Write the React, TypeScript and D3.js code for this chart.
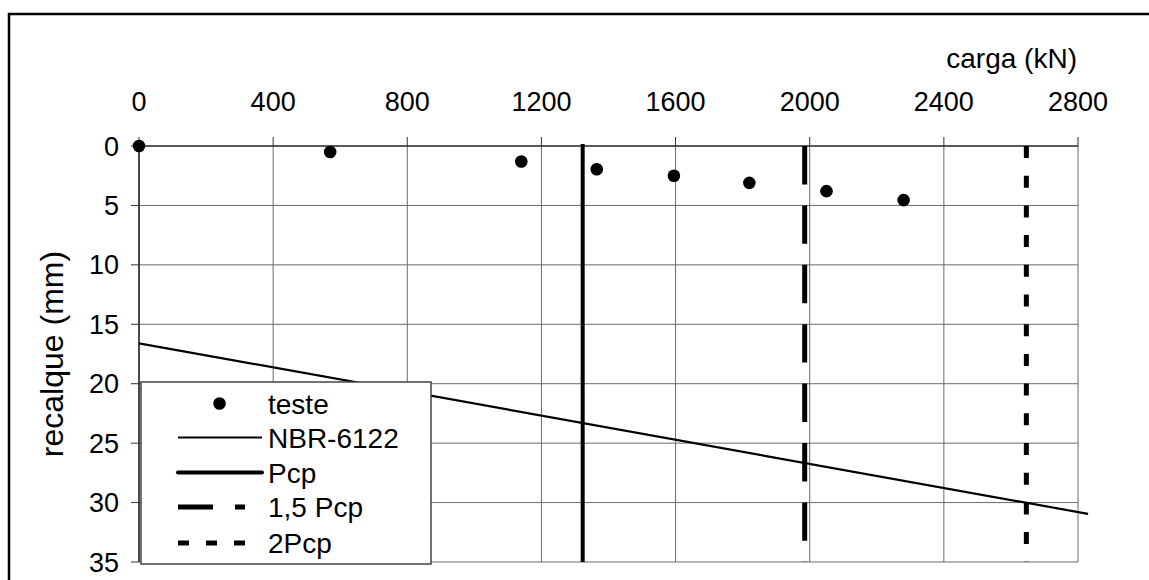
import React from "react";
import * as d3 from "d3";

const xTicks = [0, 400, 800, 1200, 1600, 2000, 2400, 2800];
const yTicks = [0, 5, 10, 15, 20, 25, 30, 35];

const testeCarga = [0, 570, 1140, 1365, 1595, 1820, 2050, 2280];
const testeRecalque = [0, 0.5, 1.3, 1.95, 2.5, 3.1, 3.8, 4.55];

const nbrCarga = [0, 2830];
const nbrRecalque = [16.6, 30.95];

const pcpNames = ["Pcp", "1,5 Pcp", "2Pcp"];
const pcpCarga = [1323, 1985, 2646];
const pcpRange = [0, 35];

const legendLabels = ["teste", "NBR-6122", "Pcp", "1,5 Pcp", "2Pcp"];

const FONT = "'Liberation Sans', Arial, sans-serif";

export default function App() {
  const x = d3.scaleLinear().domain([0, 2800]).range([139, 1078]);
  const y = d3.scaleLinear().domain([0, 35]).range([146, 562]);

  const nbrLine = d3
    .line<number>()
    .x((_, i) => x(nbrCarga[i]))
    .y((d) => y(d));

  const pcpStyles = [
    { w: 4, dash: undefined as string | undefined },
    { w: 5, dash: "38.4 21" },
    { w: 5, dash: "12 17.7" },
  ];

  const legX = 141;
  const legY = 382;
  const legW = 290;
  const legH = 182;
  const rowY = [403.5, 437.5, 472.5, 507, 543];
  const lx0 = 178;
  const lx1 = 262;

  return (
    <svg
      width={1149}
      height={580}
      style={{ position: "absolute", left: 0, top: 0, background: "#fff" }}
      fontFamily={FONT}
    >
      <rect x={0} y={0} width={1149} height={580} fill="#fff" />
      {/* outer frame */}
      <rect x={9} y={14} width={1160} height={600} fill="none" stroke="#000" strokeWidth={2.5} />

      {/* grid */}
      {yTicks.map((t) => (
        <line key={"gy" + t} x1={x(0)} x2={x(2800)} y1={y(t)} y2={y(t)} stroke="#6a6a6a" strokeWidth={1} />
      ))}
      {xTicks.map((t) => (
        <line key={"gx" + t} x1={x(t)} x2={x(t)} y1={y(0)} y2={y(35)} stroke="#6a6a6a" strokeWidth={1} />
      ))}
      {/* axes */}
      <line x1={x(0)} x2={x(2800)} y1={y(0)} y2={y(0)} stroke="#000" strokeWidth={1.2} />
      <line x1={x(0)} x2={x(0)} y1={y(0)} y2={y(35)} stroke="#000" strokeWidth={1.2} />
      {xTicks.map((t) => (
        <line key={"tx" + t} x1={x(t)} x2={x(t)} y1={y(0) - 9} y2={y(0)} stroke="#333" strokeWidth={1} />
      ))}
      {yTicks.map((t) => (
        <line key={"ty" + t} x1={x(0) - 8} x2={x(0)} y1={y(t)} y2={y(t)} stroke="#333" strokeWidth={1} />
      ))}

      {/* tick labels */}
      {xTicks.map((t) => (
        <text key={"lx" + t} x={x(t)} y={110.5} fontSize={27} textAnchor="middle" fill="#000">
          {t}
        </text>
      ))}
      {yTicks.map((t) => (
        <text key={"ly" + t} x={119} y={y(t) + 9.5} fontSize={27} textAnchor="end" fill="#000">
          {t}
        </text>
      ))}
      <text x={1077} y={68} fontSize={28} textAnchor="end" fill="#000">
        carga (kN)
      </text>
      <text
        x={0}
        y={0}
        fontSize={32}
        textAnchor="middle"
        fill="#000"
        transform={`translate(63, ${(y(0) + y(35)) / 2}) rotate(-90)`}
      >
        recalque (mm)
      </text>

      {/* Pcp lines */}
      {pcpCarga.map((c, i) => (
        <line
          key={"pcp" + pcpNames[i]}
          x1={x(c)}
          x2={x(c)}
          y1={y(pcpRange[0]) - (i === 0 ? 2 : 0)}
          y2={y(pcpRange[1])}
          stroke="#000"
          strokeWidth={pcpStyles[i].w}
          strokeDasharray={pcpStyles[i].dash}
        />
      ))}

      {/* NBR line */}
      <path d={nbrLine(nbrRecalque) || ""} fill="none" stroke="#000" strokeWidth={2.2} />

      {/* teste points */}
      {testeCarga.map((c, i) => (
        <circle key={"pt" + i} cx={x(c)} cy={y(testeRecalque[i])} r={6.3} fill="#000" />
      ))}

      {/* legend */}
      <rect x={legX} y={legY} width={legW} height={legH} fill="#fff" stroke="#444" strokeWidth={1.5} />
      <circle cx={219.5} cy={rowY[0]} r={6.3} fill="#000" />
      <line x1={lx0} x2={lx1} y1={rowY[1]} y2={rowY[1]} stroke="#000" strokeWidth={2} />
      <line x1={lx0} x2={lx1} y1={rowY[2]} y2={rowY[2]} stroke="#000" strokeWidth={4} strokeLinecap="round" />
      <line x1={lx0} x2={lx1} y1={rowY[3]} y2={rowY[3]} stroke="#000" strokeWidth={5} strokeDasharray="35 22 10 30" />
      <line x1={lx0} x2={250} y1={rowY[4]} y2={rowY[4]} stroke="#000" strokeWidth={5} strokeDasharray="11 17" />
      {legendLabels.map((l, i) => (
        <text key={"leg" + l} x={268} y={rowY[i] + 10} fontSize={28} fill="#000">
          {l}
        </text>
      ))}
    </svg>
  );
}
